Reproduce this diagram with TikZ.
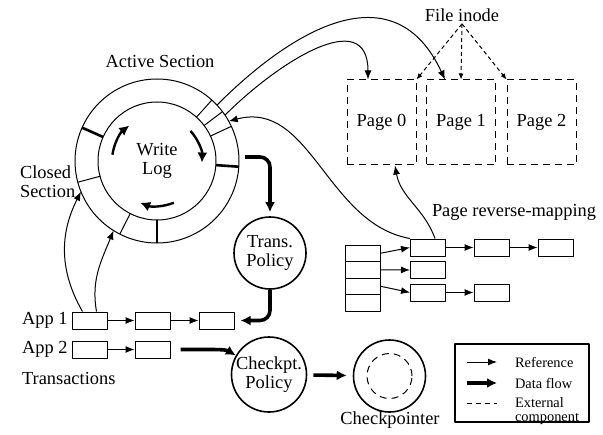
\documentclass[tikz,border=0pt]{standalone}
\usepackage{fontspec}
\setmainfont{Liberation Serif}
\usetikzlibrary{arrows.meta,positioning}
\begin{document}
\begin{tikzpicture}[x=0.5pt, y=0.5pt, font=\fontsize{9.2}{9.5}\selectfont, line join=round,
	ref/.style={-{Latex[length=4.5pt,width=3.5pt]}, line width=0.5pt},
	flow/.style={-{Latex[length=5pt,width=5pt]}, line width=1.8pt},
	ext/.style={dash pattern=on 3.5pt off 2.5pt, line width=0.5pt},
	entry/.style={draw, line width=0.5pt, fill=white, minimum width=17.5pt, minimum height=8.5pt, inner sep=0pt},
	cell/.style={draw, line width=0.5pt, minimum width=17.5pt, minimum height=8.25pt, inner sep=0pt},
	policy/.style={draw, circle, line width=0.8pt, minimum size=36pt, inner sep=0pt, align=center},
	pagebox/.style={draw, ext, minimum width=34.5pt, minimum height=42.5pt, inner sep=0pt}]
	\useasboundingbox (0,0) rectangle (603,434);
	% write log ring
	\coordinate (C) at (157,273);
	\draw[line width=0.5pt] (C) circle (82) (C) circle (59);
	\foreach \a in {48,37,25,195,243} \draw[line width=0.5pt] (C) ++(\a:59) -- ++(\a:23);
	\foreach \a in {156,-4,-90} \draw[line width=1.3pt] (C) ++(\a:59) -- ++(\a:23);
	\foreach \a in {172,42,-68} \draw[line width=1.2pt, -{Latex[length=5pt,width=5pt]}] (C) ++(\a:45) arc[start angle=\a, delta angle=-44, radius=45];
	\path (C) +(202:82) coordinate (rA) +(238:82) coordinate (rB) +(43:82) coordinate (rC) +(34:82) coordinate (rD) +(29:82) coordinate (rE);
	\node[align=center] (log) at (C) {Write\\Log};
	\node (act) at (160,372) {Active Section};
	\node[align=left, anchor=west] (closed) at (13,252) {Closed\\Section};
	% transactions
	\node[anchor=west] (app1) at (15,113.5) {App 1};
	\node[anchor=west] (app2) at (15,84.5) {App 2};
	\node[anchor=west] (trx) at (15,56) {Transactions};
	\node[entry] (a11) at (89.5,113.5) {};
	\node[entry] (a12) at (152.5,113.5) {};
	\node[entry] (a13) at (216.5,113.5) {};
	\node[entry] (a21) at (89.5,84.5) {};
	\node[entry] (a22) at (152.5,84.5) {};
	\draw[ref] (a11) -- (a12);
	\draw[ref] (a12) -- (a13);
	\draw[ref] (a21) -- (a22);
	\draw[ref] ([xshift=5.5pt]a11.north west) to[out=120,in=-117] (rA);
	\draw[ref] ([xshift=12.5pt]a11.north west) to[out=100,in=-112] (rB);
	% policies
	\node[policy] (trans) at (270,181) {Trans.\\Policy};
	\coordinate (tout) at (245,277);
	\draw[flow, rounded corners=5pt, shorten >=2pt] (tout) -| (trans);
	\draw[flow, rounded corners=5pt] (trans) |- ([xshift=3pt]a13.east);
	\node[policy, minimum size=37pt] (cpol) at (269,59.5) {Checkpt.\\Policy};
	\draw[flow] ([xshift=5pt]a22.east) -- ++(13.5pt,0) to[out=0,in=150] (cpol);
	\node[policy] (chkp) at (389.5,58) {};
	\draw[ext] (chkp.center) circle (22.5);
	\draw[flow, shorten <=3pt, shorten >=3pt] (cpol) -- (chkp);
	\node (chklbl) at (390,14) {Checkpointer};
	% file pages
	\node[pagebox] (page0) at (381.5,311.5) {Page 0};
	\node[pagebox] (page1) at (461,311.5) {Page 1};
	\node[pagebox] (page2) at (541.5,311.5) {Page 2};
	\node[inner sep=1pt] (inode) at (462,419) {File inode};
	\foreach \t in {page0.north east, page1.north, page2.north west}
		\draw[dash pattern=on 2pt off 1.5pt, line width=0.5pt, -{Latex[length=3pt,width=2.5pt]}] (inode.south) -- (\t);
	\draw[ref] (rC) to[out=45,in=115,looseness=1.3] ([xshift=-8pt]page1.north);
	\draw[ref] (rD) to[out=45,in=90,looseness=1.3] ([xshift=-6.75pt]page0.north);
	% reverse mapping
	\node (rmlbl) at (514,222) {Page reverse-mapping};
	\foreach \i/\y in {1/180.75, 2/164.25, 3/147.75, 4/131.25} \node[cell] (rm\i) at (362.5,\y) {};
	\node[entry] (p11) at (428,186.5) {};
	\node[entry] (p12) at (491.5,186.5) {};
	\node[entry] (p13) at (555.5,186.5) {};
	\node[entry] (p21) at (428,164) {};
	\node[entry] (p31) at (428,141.5) {};
	\node[entry] (p32) at (491.5,141.5) {};
	\draw[ref] (rm1.east) -- (p11.west);
	\draw[ref] (rm2.east) -- (p21.west);
	\draw[ref] (rm3.east) -- (p31.west);
	\draw[ref] (p11) -- (p12);
	\draw[ref] (p12) -- (p13);
	\draw[ref] (p31) -- (p32);
	\draw[ref] (p11.north west) to[out=170,in=15] (rE);
	\draw[ref] ([xshift=3.5pt]p11.north) to[out=110,in=-80] ([xshift=6.75pt]page0.south);
	% legend
	\node[draw, line width=0.6pt, minimum width=67pt, minimum height=39pt, inner sep=0pt] (legend) at (522,51) {};
	\begin{scope}[font=\fontsize{7.2}{7}\selectfont]
		\coordinate (l1) at (467,72); \coordinate (l2) at (497,72);
		\coordinate (l3) at (467,51); \coordinate (l4) at (497,51);
		\coordinate (l5) at (467,31); \coordinate (l6) at (497,31);
		\draw[ref] (l1) -- (l2);
		\draw[flow] (l3) -- (l4);
		\draw[dash pattern=on 2.5pt off 2pt, line width=0.5pt] (l5) -- (l6);
		\node[anchor=west] (lref) at (508,72) {Reference};
		\node[anchor=west] (lflow) at (508,51) {Data flow};
		\node[anchor=west, align=left] (lext) at (508,22.5) {External\\component};
	\end{scope}
\end{tikzpicture}
\end{document}
